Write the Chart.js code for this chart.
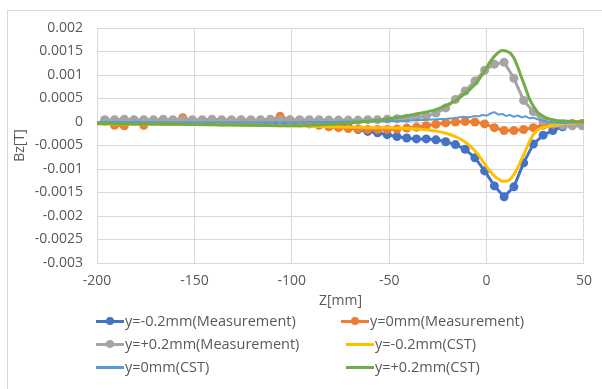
<!DOCTYPE html>
<html>
<head>
<meta charset="utf-8">
<script src="https://cdn.jsdelivr.net/npm/chart.js@4.4.1/dist/chart.umd.min.js"></script>
<style>
    html, body { margin: 0; padding: 0; background: #fff; }
    #wrap { position: relative; width: 602px; height: 389px; overflow: hidden; font-family: "Open Sans", sans-serif; }
    #frame { position: absolute; left: 7px; top: 10px; width: 640px; height: 420px; border: 1px solid #d9d9d9; }
    #bz { position: absolute; left: 0; top: 0; }
    .item { position: absolute; display: flex; align-items: center; font-size: 14.5px; color: #595959; white-space: nowrap; line-height: 16px; }
    .key { position: relative; width: 28px; height: 10px; margin-right: 1px; }
    .key .ln { position: absolute; left: 0; right: 0; top: 50%; height: 3px; margin-top: -1.5px; }
    .key .dot { position: absolute; left: 50%; top: 50%; width: 8px; height: 8px; margin: -4px 0 0 -4px; border-radius: 50%; }
</style>
</head>
<body>
<div id="wrap">
    <div id="frame"></div>
    <canvas id="bz" width="602" height="389"></canvas>
    <div id="legend"></div>
</div>
<script>
'use strict';

// ------------------------------------------------------------
// 数据 (Z 位置 mm, Bz 单位 T)
// ------------------------------------------------------------

// 测量点的 Z 位置
const measZ = [-196, -191, -186, -181, -176, -171, -166, -161, -156, -151,
               -146, -141, -136, -131, -126, -121, -116, -111, -106, -101,
               -96, -91, -86, -81, -76, -71, -66, -61, -56, -51,
               -46, -41, -36, -31, -26, -21, -16, -11, -6, -1,
               4, 9, 14, 19, 24, 29, 34, 39, 44, 49];

const measMinus = [0.00002, 0.00002, 0.00001, 0.00002, 0.00001, 0.00002, 0.00001, 0.00001, 0.00002, 0.00001,
                   0.00001, 0.00001, 0.0, 0.00001, 0.0, 0.0, 0.0, -0.00001, -0.00001, -0.00001,
                   -0.00001, -0.00002, -0.00002, -0.00003, -0.00005, -0.0001, -0.00016, -0.0002, -0.00023, -0.00027,
                   -0.00031, -0.00034, -0.00036, -0.00036, -0.00038, -0.00042, -0.00048, -0.00058, -0.00076, -0.00104,
                   -0.00136, -0.00159, -0.00138, -0.00087, -0.00047, -0.00028, -0.00018, -0.0001, -0.00006, -0.00004];

const measZero = [0.00003, -0.00007, -0.00008, 0.00002, -0.00007, 0.00002, 0.00003, 0.00002, 0.00009, 0.00003,
                  0.00002, 0.00003, 0.00001, 0.00002, 0.00002, 0.00001, 0.00002, 0.00003, 0.00012, 0.00004,
                  -0.00002, -0.00004, -0.00007, -0.0001, -0.00012, -0.00014, -0.00015, -0.00016, -0.00016, -0.00016,
                  -0.00015, -0.00013, -0.00011, -0.00008, -0.00005, -0.00002, 0.0, 0.00001, 0.0, -0.00004,
                  -0.00012, -0.00018, -0.00018, -0.00016, -0.00012, -0.00007, -0.00005, -0.00004, -0.00003, -0.00003];

const measPlus = [0.00005, 0.00005, 0.00006, 0.00005, 0.00005, 0.00005, 0.00006, 0.00005, 0.00005, 0.00005,
                  0.00005, 0.00006, 0.00005, 0.00005, 0.00005, 0.00005, 0.00005, 0.00006, 0.00005, 0.00005,
                  0.00005, 0.00005, 0.00005, 0.00004, 0.00004, 0.00004, 0.00004, 0.00005, 0.00005, 0.00006,
                  0.00007, 0.00008, 0.0001, 0.00012, 0.00019, 0.0003, 0.00048, 0.00066, 0.00087, 0.0011,
                  0.00123, 0.00127, 0.00093, 0.00046, 0.00022, 0.00003, -0.00004, -0.00007, -0.00008, -0.00008];

// CST 仿真的 Z 位置
const cstZ = [-200, -180, -160, -140, -120, -100, -90, -80, -70, -60,
              -50, -45, -40, -35, -30, -25, -20, -15, -12, -9,
              -6, -4, -2, 0, 2, 4, 6, 8, 10, 12,
              14, 16, 18, 20, 22, 24, 26, 28, 31, 35,
              40, 45, 50];

const cstMinus = [-0.00004, -0.00004, -0.00005, -0.00006, -0.00007, -0.00008, -0.00009, -0.0001, -0.00011, -0.00012,
                  -0.00012, -0.00013, -0.00014, -0.00015, -0.00017, -0.0002, -0.00025, -0.00033, -0.0004, -0.00049,
                  -0.00061, -0.00071, -0.00083, -0.00095, -0.00106, -0.00115, -0.00121, -0.00126, -0.00126, -0.00122,
                  -0.00112, -0.00097, -0.00079, -0.00061, -0.00042, -0.00027, -0.00018, -0.00013, -0.0001, -0.00006,
                  -0.00003, -0.00002, -0.00001];

const cstZero = [0.0, 0.0, -0.00001, -0.00001, -0.00001, -0.00001, 0.0, 0.0, 0.00001, 0.00001,
                 0.00002, 0.00002, 0.00003, 0.00004, 0.00005, 0.00006, 0.00007, 0.00009, 0.00011, 0.0001,
                 0.00013, 0.00012, 0.00015, 0.00014, 0.00018, 0.00021, 0.00016, 0.00017, 0.00013, 0.00015,
                 0.00011, 0.00014, 0.0001, 0.00012, 0.00008, 0.00009, 0.00006, 0.00004, 0.00001, -0.00001,
                 -0.00002, -0.00001, -0.00001];

const cstPlus = [-0.00003, -0.00004, -0.00005, -0.00006, -0.00007, -0.00008, -0.00007, -0.00005, -0.00002, 0.00002,
                 0.00007, 0.0001, 0.00014, 0.00018, 0.00022, 0.00028, 0.00037, 0.00048, 0.00058, 0.00068,
                 0.0008, 0.0009, 0.00102, 0.00116, 0.00129, 0.0014, 0.00148, 0.00152, 0.00151, 0.00147,
                 0.00136, 0.00117, 0.00094, 0.00072, 0.00049, 0.00034, 0.00022, 0.00015, 0.00008, 0.00004,
                 0.00002, 0.00001, 0.0];

const seriesLabels = ['y=-0.2mm(Measurement)', 'y=0mm(Measurement)', 'y=+0.2mm(Measurement)',
                      'y=-0.2mm(CST)', 'y=0mm(CST)', 'y=+0.2mm(CST)'];

// ------------------------------------------------------------
// 图表
// ------------------------------------------------------------

const pairs = (xs, ys) => xs.map((x, i) => ({ x: x, y: ys[i] }));

function measSet(label, ys, color, order) {
    return {
        label: label,
        data: pairs(measZ, ys),
        borderColor: color,
        backgroundColor: color,
        borderWidth: 3,
        pointRadius: 4.5,
        pointBorderWidth: 0,
        pointBackgroundColor: color,
        order: order
    };
}

function cstSet(label, ys, color, width, order) {
    return {
        label: label,
        data: pairs(cstZ, ys),
        borderColor: color,
        backgroundColor: color,
        borderWidth: width,
        pointRadius: 0,
        cubicInterpolationMode: 'monotone',
        order: order
    };
}

const tickFont = { family: 'Open Sans', size: 14 };
const gridColor = '#d9d9d9';

const chart = new Chart(document.getElementById('bz'), {
    type: 'line',
    data: {
        datasets: [
            measSet(seriesLabels[0], measMinus, '#4472C4', 6),
            measSet(seriesLabels[1], measZero, '#ED7D31', 5),
            measSet(seriesLabels[2], measPlus, '#A5A5A5', 4),
            cstSet(seriesLabels[3], cstMinus, '#FFC000', 3, 3),
            cstSet(seriesLabels[4], cstZero, '#5B9BD5', 2, 2),
            cstSet(seriesLabels[5], cstPlus, '#70AD47', 3, 1)
        ]
    },
    options: {
        responsive: false,
        animation: false,
        layout: { padding: { left: 8, top: 28, right: 14, bottom: 76 } },
        plugins: {
            legend: { display: false },
            tooltip: { enabled: false }
        },
        scales: {
            x: {
                type: 'linear',
                min: -200,
                max: 50,
                afterFit: (s) => { s.height = 50; },
                ticks: { stepSize: 50, color: '#595959', font: tickFont, padding: 10, maxRotation: 0 },
                grid: { color: gridColor, drawTicks: false },
                border: { color: gridColor },
                title: { display: true, text: 'Z[mm]', color: '#595959', font: tickFont, padding: { top: 0, bottom: 4 } }
            },
            y: {
                min: -0.003,
                max: 0.002,
                afterFit: (s) => { s.width = 89; },
                ticks: {
                    stepSize: 0.0005,
                    color: '#595959',
                    font: tickFont,
                    padding: 14,
                    callback: (v) => String(+v.toFixed(4))
                },
                grid: { color: gridColor, drawTicks: false },
                border: { color: gridColor },
                title: { display: true, text: 'Bz[T]', color: '#595959', font: tickFont, padding: { top: 4, bottom: 0 } }
            }
        }
    }
});

// ------------------------------------------------------------
// 图例 (两列)
// ------------------------------------------------------------

const legendPos = [[96, 313], [341, 313], [96, 336], [346, 336], [96, 359], [346, 359]];
const legendBox = document.getElementById('legend');
chart.data.datasets.forEach((ds, i) => {
    const item = document.createElement('div');
    item.className = 'item';
    item.style.left = legendPos[i][0] + 'px';
    item.style.top = legendPos[i][1] + 'px';
    const key = document.createElement('span');
    key.className = 'key';
    key.innerHTML = '<span class="ln" style="background:' + ds.borderColor + '"></span>' +
        (ds.pointRadius > 0 ? '<span class="dot" style="background:' + ds.borderColor + '"></span>' : '');
    const txt = document.createElement('span');
    txt.textContent = ds.label;
    item.appendChild(key);
    item.appendChild(txt);
    legendBox.appendChild(item);
});
</script>
</body>
</html>
